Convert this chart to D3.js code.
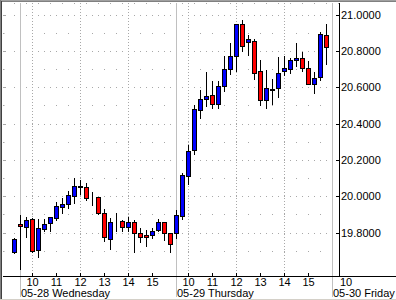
<!DOCTYPE html>
<html>
<head>
<meta charset="utf-8">
<script src="https://cdn.jsdelivr.net/npm/d3@7/dist/d3.min.js"></script>
<style>
  body { margin: 0; background: #fff; }
  svg { display: block; font-family: "Liberation Sans", Arial, sans-serif; font-size: 11px; }
</style>
</head>
<body>
<svg id="chart"></svg>
<script>
// sessions and labels
const days = ['05-27', '05-28', '05-29', '05-30'];
const dayNames = ['Tuesday', 'Wednesday', 'Thursday', 'Friday'];
const sessionTimes = ['09:30', '09:45', '10:00', '10:15', '10:30', '10:45', '11:00', '11:15', '11:30', '11:45',
  '12:00', '12:15', '12:30', '12:45', '13:00', '13:15', '13:30', '13:45', '14:00', '14:15',
  '14:30', '14:45', '15:00', '15:15', '15:30', '15:45'];
const hourLabels = ['10', '11', '12', '13', '14', '15'];
const gridHours = ['10', '12', '14'];
const priceTicks = [19.8, 20.0, 20.2, 20.4, 20.6, 20.8, 21.0];
const minorTicks = [19.7, 19.9, 20.1, 20.3, 20.5, 20.7, 20.9];

// 15 minute bars [open, high, low, close]
const bars0527 = [ // only the last bar is on screen
  ['15:45', 19.690, 19.770, 19.685, 19.765]
];
const bars0528 = [
  [19.848, 19.897, 19.601, 19.837], [19.833, 19.888, 19.773, 19.870], [19.873, 19.878, 19.690, 19.696],
  [19.701, 19.873, 19.663, 19.824], [19.820, 19.875, 19.809, 19.846], [19.855, 19.887, 19.806, 19.885],
  [19.882, 19.970, 19.870, 19.947], [19.943, 19.989, 19.906, 19.957], [19.956, 20.030, 19.937, 20.007],
  [20.003, 20.099, 19.965, 20.058], [20.049, 20.089, 20.012, 20.058], [20.052, 20.071, 19.979, 19.989],
  [19.990, 20.023, 19.952, 19.988], [19.994, 19.995, 19.901, 19.910], [19.906, 19.930, 19.751, 19.773],
  [19.764, 19.879, 19.711, 19.857], [19.870, 19.906, 19.809, 19.868], [19.866, 19.868, 19.806, 19.833],
  [19.833, 19.888, 19.806, 19.857], [19.857, 19.870, 19.690, 19.797], [19.797, 19.827, 19.745, 19.775],
  [19.786, 19.815, 19.723, 19.773], [19.786, 19.824, 19.771, 19.808], [19.815, 19.873, 19.806, 19.857],
  [19.857, 19.858, 19.760, 19.797], [19.797, 19.800, 19.690, 19.738]
];
const bars0529 = [
  [19.797, 19.925, 19.770, 19.897], [19.893, 20.129, 19.873, 20.117], [20.113, 20.281, 20.066, 20.247],
  [20.255, 20.501, 20.230, 20.479], [20.477, 20.583, 20.428, 20.537], [20.537, 20.683, 20.497, 20.550],
  [20.559, 20.634, 20.486, 20.510], [20.510, 20.634, 20.486, 20.609], [20.609, 20.770, 20.579, 20.702],
  [20.702, 20.843, 20.675, 20.770], [20.771, 20.948, 20.687, 20.945], [20.945, 20.971, 20.799, 20.824],
  [20.848, 20.885, 20.775, 20.863], [20.852, 20.863, 20.645, 20.680], [20.689, 20.751, 20.501, 20.528],
  [20.532, 20.693, 20.483, 20.598], [20.588, 20.647, 20.506, 20.586], [20.598, 20.766, 20.546, 20.680],
  [20.689, 20.770, 20.665, 20.708], [20.702, 20.760, 20.678, 20.751], [20.751, 20.843, 20.715, 20.762],
  [20.762, 20.793, 20.689, 20.708], [20.708, 20.744, 20.618, 20.620], [20.620, 20.683, 20.568, 20.653],
  [20.656, 20.903, 20.638, 20.890], [20.885, 20.945, 20.726, 20.821]
];

class CandleChart {
  constructor(_config) {
    this.config = {
      parentElement: _config.parentElement,
      containerWidth: _config.containerWidth || 396,
      containerHeight: _config.containerHeight || 300,
      plotLeft: 3,
      plotTop: 3,
      axisX: 339,
      axisY: 276,
      upColor: '#0000ff',
      downColor: '#ff0000'
    };
    this.initChart();
  }

  // slot number of a bar counted from the last bar of 05-27
  slot(dayIdx, time) {
    return (dayIdx - 1) * sessionTimes.length + sessionTimes.indexOf(time) + 1;
  }

  initChart() {
    let vis = this;
    let c = vis.config;
    vis.data = [];
    bars0527.forEach(b => vis.data.push({ slot: vis.slot(0, b[0]), o: b[1], h: b[2], l: b[3], c: b[4] }));
    [bars0528, bars0529].forEach((dayBars, k) => {
      dayBars.forEach((b, i) => {
        vis.data.push({ slot: vis.slot(k + 1, sessionTimes[i]), o: b[0], h: b[1], l: b[2], c: b[3] });
      });
    });

    vis.xScale = d3.scaleLinear().domain([0, 53]).range([14, 332]);
    vis.yScale = d3.scaleLinear().domain([19.8, 21.0]).range([232.5, 14.5]);

    vis.svg = d3.select(c.parentElement)
      .attr('width', c.containerWidth)
      .attr('height', c.containerHeight);
    vis.svg.append('rect').attr('width', c.containerWidth).attr('height', c.containerHeight).attr('fill', '#fff');
    vis.renderChart();
  }

  renderChart() {
    let vis = this;
    let c = vis.config;
    const px = v => Math.round(v) + 0.5;
    const grid = vis.svg.append('g').attr('class', 'grid');

    // horizontal dotted rows
    grid.selectAll('.major-row').data(priceTicks).join('line')
      .attr('x1', vis.xScale(0)).attr('x2', c.axisX)
      .attr('y1', d => px(vis.yScale(d))).attr('y2', d => px(vis.yScale(d)))
      .attr('stroke', '#a8a8a8').attr('stroke-dasharray', '1 5');
    grid.selectAll('.minor-row').data(minorTicks).join('line')
      .attr('x1', vis.xScale(1)).attr('x2', c.axisX)
      .attr('y1', d => px(vis.yScale(d))).attr('y2', d => px(vis.yScale(d)))
      .attr('stroke', '#a8a8a8').attr('stroke-dasharray', '1 11');
    grid.append('line')
      .attr('x1', vis.xScale(0)).attr('x2', c.axisX).attr('y1', 3.5).attr('y2', 3.5)
      .attr('stroke', '#a8a8a8').attr('stroke-dasharray', '1 11');

    // left edge ticks
    grid.selectAll('.ltick').data(priceTicks).join('line')
      .attr('x1', c.plotLeft).attr('x2', c.plotLeft + 3)
      .attr('y1', d => px(vis.yScale(d))).attr('y2', d => px(vis.yScale(d)))
      .attr('stroke', '#a8a8a8');
    grid.selectAll('.lmtick').data(minorTicks).join('line')
      .attr('x1', c.plotLeft).attr('x2', c.plotLeft + 1.5)
      .attr('y1', d => px(vis.yScale(d))).attr('y2', d => px(vis.yScale(d)))
      .attr('stroke', '#a8a8a8');

    // vertical dotted lines every two hours
    const gridSlots = [];
    [1, 2].forEach(d => gridHours.forEach(h => gridSlots.push(vis.slot(d, h + ':00'))));
    grid.selectAll('.vgrid').data(gridSlots).join('line')
      .attr('x1', d => px(vis.xScale(d))).attr('x2', d => px(vis.xScale(d)))
      .attr('y1', c.plotTop).attr('y2', c.axisY)
      .attr('stroke', '#a8a8a8').attr('stroke-dasharray', '1 2');

    // day separators
    const daySlots = [1, 2, 3].map(d => vis.slot(d, sessionTimes[0]));
    grid.selectAll('.dayline').data(daySlots).join('line')
      .attr('x1', d => px(vis.xScale(d))).attr('x2', d => px(vis.xScale(d)))
      .attr('y1', c.plotTop).attr('y2', 297)
      .attr('stroke', '#c0c0c0');

    // candles
    const candles = vis.svg.append('g').attr('class', 'candles');
    candles.selectAll('.wick').data(vis.data).join('line')
      .attr('x1', d => px(vis.xScale(d.slot))).attr('x2', d => px(vis.xScale(d.slot)))
      .attr('y1', d => Math.round(vis.yScale(d.h))).attr('y2', d => Math.round(vis.yScale(d.l)) + 1)
      .attr('stroke', '#000');
    candles.selectAll('.body').data(vis.data).join('rect')
      .attr('x', d => px(vis.xScale(d.slot)) - 2)
      .attr('y', d => px(vis.yScale(Math.max(d.o, d.c))))
      .attr('width', 4)
      .attr('height', d => Math.round(vis.yScale(Math.min(d.o, d.c))) - Math.round(vis.yScale(Math.max(d.o, d.c))))
      .attr('fill', d => d.c >= d.o ? c.upColor : c.downColor)
      .attr('stroke', '#000');

    // axes
    const axes = vis.svg.append('g').attr('class', 'axes');
    axes.append('line').attr('x1', c.plotLeft).attr('x2', c.containerWidth)
      .attr('y1', c.axisY + 0.5).attr('y2', c.axisY + 0.5).attr('stroke', '#000');
    axes.append('line').attr('x1', c.axisX + 0.5).attr('x2', c.axisX + 0.5)
      .attr('y1', c.plotTop).attr('y2', c.axisY).attr('stroke', '#000');

    axes.selectAll('.ytick').data(priceTicks).join('line')
      .attr('x1', c.axisX - 3).attr('x2', c.axisX)
      .attr('y1', d => px(vis.yScale(d))).attr('y2', d => px(vis.yScale(d)))
      .attr('stroke', '#000');
    axes.selectAll('.ylabel').data(priceTicks).join('text')
      .attr('x', c.axisX + 2).attr('y', d => vis.yScale(d) + 4)
      .attr('fill', '#000')
      .text(d => d3.format('.4f')(d));

    // hour ticks and labels
    const hourTicks = [];
    [1, 2].forEach(d => hourLabels.forEach(h => hourTicks.push({ slot: vis.slot(d, h + ':00'), label: h })));
    axes.selectAll('.xtick').data(hourTicks).join('line')
      .attr('x1', d => px(vis.xScale(d.slot))).attr('x2', d => px(vis.xScale(d.slot)))
      .attr('y1', c.axisY - 3).attr('y2', c.axisY)
      .attr('stroke', '#000');
    axes.selectAll('.xlabel').data(hourTicks).join('text')
      .attr('x', d => vis.xScale(d.slot) + 0.5).attr('y', 285.5)
      .attr('text-anchor', 'middle').attr('fill', '#000')
      .text(d => d.label);
    axes.append('text').attr('x', c.axisX + 1).attr('y', 285.5).attr('fill', '#000').text(hourLabels[0]);

    // date labels
    const dateLabels = [1, 2, 3].map(d => ({
      x: Math.min(vis.xScale(vis.slot(d, sessionTimes[0])) + 1, c.axisX),
      text: days[d] + ' ' + dayNames[d]
    }));
    axes.selectAll('.dlabel').data(dateLabels).join('text')
      .attr('x', d => d.x).attr('y', 297).attr('fill', '#000')
      .text(d => d.text);

    // sunken frame
    const frame = vis.svg.append('g').attr('class', 'frame');
    frame.append('line').attr('x1', 0).attr('x2', c.containerWidth).attr('y1', 0.5).attr('y2', 0.5).attr('stroke', '#a0a0a0');
    frame.append('line').attr('x1', 1).attr('x2', c.containerWidth).attr('y1', 1.5).attr('y2', 1.5).attr('stroke', '#808080');
    frame.append('line').attr('x1', 0.5).attr('x2', 0.5).attr('y1', 0).attr('y2', c.containerHeight).attr('stroke', '#808080');
    frame.append('line').attr('x1', 1.5).attr('x2', 1.5).attr('y1', 1).attr('y2', c.containerHeight).attr('stroke', '#404040');
    frame.append('line').attr('x1', 0).attr('x2', c.containerWidth).attr('y1', 299.5).attr('y2', 299.5).attr('stroke', '#d4d0c8');
  }
}

new CandleChart({ parentElement: '#chart' });
</script>
</body>
</html>
